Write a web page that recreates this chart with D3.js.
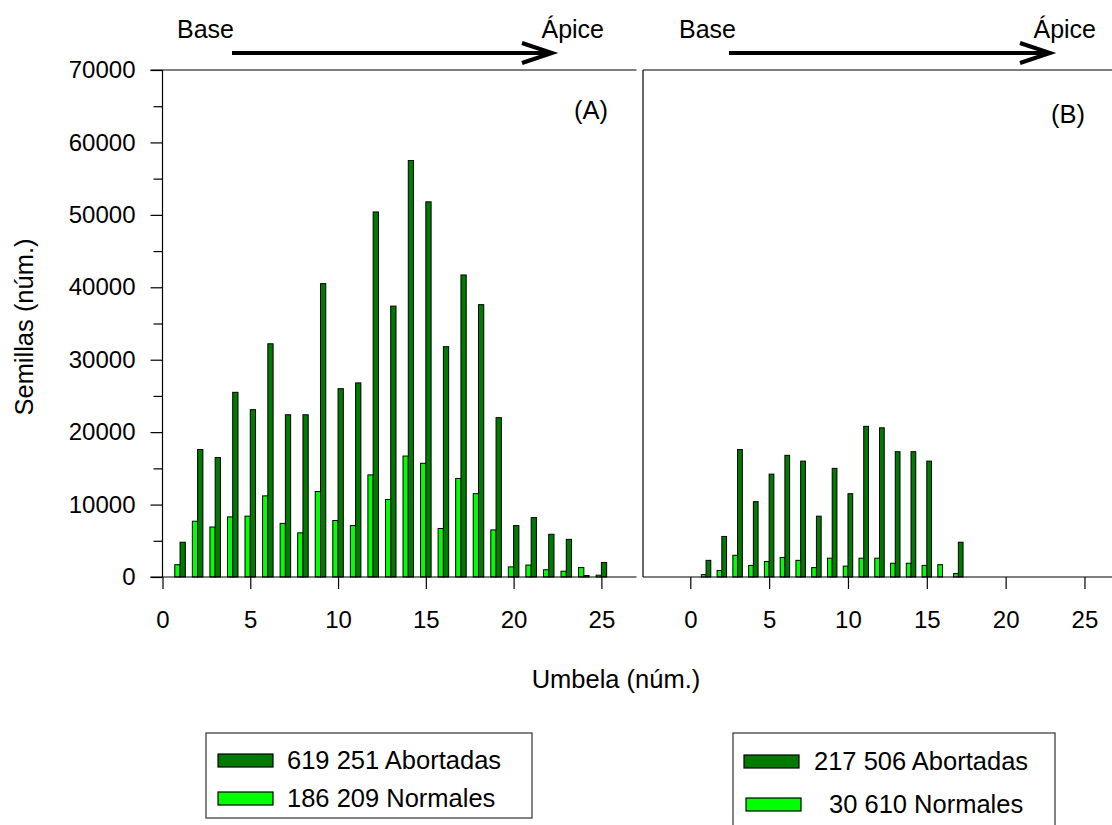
<!DOCTYPE html>
<html>
<head>
<meta charset="utf-8">
<script src="https://cdn.jsdelivr.net/npm/d3@7"></script>
<style>
  body { margin: 0; background: #fff; }
  svg { display: block; font-family: "Liberation Sans", Arial, sans-serif; }
</style>
</head>
<body>
<svg id="chart"></svg>
<script>
// Panel A
const umbelasA = [1, 2, 3, 4, 5, 6, 7, 8, 9, 10, 11, 12, 13, 14, 15, 16, 17, 18, 19, 20, 21, 22, 23, 24, 25];
const abortadasA = [4800, 17600, 16500, 25500, 23100, 32200, 22400, 22400, 40500, 26000, 26800, 50400, 37400, 57500, 51800, 31800, 41700, 37600, 22000, 7100, 8200, 5900, 5200, 200, 2000];
const normalesA = [1700, 7700, 6900, 8300, 8400, 11200, 7400, 6100, 11800, 7800, 7100, 14100, 10700, 16700, 15700, 6700, 13600, 11500, 6500, 1400, 1650, 1000, 800, 1300, 250];

// Panel B
const umbelasB = [1, 2, 3, 4, 5, 6, 7, 8, 9, 10, 11, 12, 13, 14, 15, 16, 17];
const abortadasB = [2300, 5600, 17600, 10400, 14200, 16800, 16000, 8400, 15000, 11500, 20800, 20600, 17300, 17300, 16000, 0, 4800];
const normalesB = [330, 900, 3000, 1600, 2150, 2700, 2300, 1300, 2600, 1500, 2600, 2600, 1900, 1900, 1600, 1700, 470];

const yTicks = [0, 10000, 20000, 30000, 40000, 50000, 60000, 70000];
const xTicks = [0, 5, 10, 15, 20, 25];
const legendA = ["619 251 Abortadas", "186 209 Normales"];
const legendB = ["217 506 Abortadas", "30 610 Normales"];

const W = 1112, H = 825;
const dark = "#007a00", light = "#00ff00";
const fontSize = 25.5;
const tickFont = 24;

const svg = d3.select('#chart').attr('width', W).attr('height', H);

const y = d3.scaleLinear().domain([0, 70000]).range([577, 70]);
const xA = d3.scaleLinear().domain([0, 27]).range([162.5, 636.5]);
const xB = d3.scaleLinear().domain([-3, 27]).range([643, 1116]);

const barW = 0.3;

function drawBars(x, cats, norm, abort) {
  const g = svg.append('g');
  const rows = cats.map((c, i) => ({ c, n: norm[i], a: abort[i] }));

  g.selectAll('.normal')
    .data(rows.filter(d => d.n > 0))
    .enter().append('rect')
    .attr('x', d => x(d.c - barW))
    .attr('y', d => y(d.n))
    .attr('width', d => x(d.c) - x(d.c - barW))
    .attr('height', d => y(0) - y(d.n))
    .attr('fill', light)
    .attr('stroke', '#000')
    .attr('stroke-width', 1);

  g.selectAll('.abort')
    .data(rows.filter(d => d.a > 0))
    .enter().append('rect')
    .attr('x', d => x(d.c))
    .attr('y', d => y(d.a))
    .attr('width', d => x(d.c + barW) - x(d.c))
    .attr('height', d => y(0) - y(d.a))
    .attr('fill', dark)
    .attr('stroke', '#000')
    .attr('stroke-width', 1);
}

drawBars(xA, umbelasA, normalesA, abortadasA);
drawBars(xB, umbelasB, normalesB, abortadasB);

// axes
function styleAxis(g) {
  g.selectAll('.tick line').attr('stroke', '#000').attr('stroke-width', 1.2);
  g.selectAll('.tick text').attr('fill', '#000').style('font-size', tickFont + 'px')
    .style('font-family', '"Liberation Sans", Arial, sans-serif');
  g.select('.domain').remove();
}

svg.append('g')
  .attr('transform', `translate(0,${y(0)})`)
  .call(d3.axisBottom(xA).tickValues(xTicks).tickSize(12).tickPadding(22))
  .call(styleAxis);

svg.append('g')
  .attr('transform', `translate(0,${y(0)})`)
  .call(d3.axisBottom(xB).tickValues(xTicks).tickSize(12).tickPadding(22))
  .call(styleAxis);

svg.append('g')
  .attr('transform', `translate(${xA(0)},0)`)
  .call(d3.axisLeft(y).tickValues(yTicks).tickFormat(d3.format('d')).tickSize(12).tickPadding(15))
  .call(styleAxis);

// minor y ticks
svg.append('g')
  .attr('transform', `translate(${xA(0)},0)`)
  .call(d3.axisLeft(y).tickValues(d3.range(5000, 70000, 10000)).tickSize(9).tickFormat(''))
  .call(styleAxis);

// frame lines
const frame = svg.append('g').attr('stroke', '#000').attr('stroke-width', 1.2).attr('fill', 'none');
frame.append('line').attr('x1', xA(0)).attr('x2', xA(0)).attr('y1', y(70000)).attr('y2', y(0));
frame.append('line').attr('x1', xA(0) - 12).attr('x2', xA.range()[1]).attr('y1', y(70000)).attr('y2', y(70000));
frame.append('line').attr('x1', xA(0) - 12).attr('x2', xA.range()[1]).attr('y1', y(0)).attr('y2', y(0));
frame.append('line').attr('x1', xB.range()[0]).attr('x2', xB.range()[0]).attr('y1', y(70000)).attr('y2', y(0));
frame.append('line').attr('x1', xB.range()[0]).attr('x2', W).attr('y1', y(70000)).attr('y2', y(70000));
frame.append('line').attr('x1', xB.range()[0]).attr('x2', W).attr('y1', y(0)).attr('y2', y(0));

// panel labels
svg.append('text').attr('x', 591).attr('y', 119).attr('text-anchor', 'middle')
  .style('font-size', fontSize + 'px').text('(A)');
svg.append('text').attr('x', 1068).attr('y', 123).attr('text-anchor', 'middle')
  .style('font-size', fontSize + 'px').text('(B)');

// Base -> Ápice arrows
function arrow(x0, x1, yy, baseX, apiceX) {
  const g = svg.append('g');
  g.append('line').attr('x1', x0).attr('x2', x1 - 2).attr('y1', yy).attr('y2', yy)
    .attr('stroke', '#000').attr('stroke-width', 4);
  g.append('path')
    .attr('d', `M${x1 - 30},${yy - 10} L${x1},${yy} L${x1 - 30},${yy + 10}`)
    .attr('stroke', '#000').attr('stroke-width', 4).attr('fill', 'none')
    .attr('stroke-linejoin', 'miter');
  g.append('text').attr('x', baseX).attr('y', 38).style('font-size', '25px').text('Base');
  g.append('text').attr('x', apiceX).attr('y', 38).attr('text-anchor', 'end')
    .style('font-size', '25px').text('Ápice');
}
arrow(232, 552, 53, 177, 604);
arrow(729, 1050, 53, 679, 1096);

// axis titles
svg.append('text')
  .attr('transform', 'translate(33,327) rotate(-90)')
  .attr('text-anchor', 'middle')
  .style('font-size', fontSize + 'px')
  .text('Semillas (núm.)');

svg.append('text')
  .attr('x', 616).attr('y', 688)
  .attr('text-anchor', 'middle')
  .style('font-size', fontSize + 'px')
  .text('Umbela (núm.)');

// legends
function legend(x0, x1, y0, y1, labels, swatchX, textX, rowsY) {
  const g = svg.append('g');
  g.append('rect').attr('x', x0).attr('y', y0).attr('width', x1 - x0).attr('height', y1 - y0)
    .attr('fill', '#fff').attr('stroke', '#333').attr('stroke-width', 1.2);
  [dark, light].forEach((c, i) => {
    g.append('rect').attr('x', swatchX[i]).attr('y', rowsY[i] - 15)
      .attr('width', 55).attr('height', 13)
      .attr('fill', c).attr('stroke', '#000').attr('stroke-width', 1.2);
    g.append('text').attr('x', textX[i]).attr('y', rowsY[i])
      .style('font-size', fontSize + 'px').text(labels[i]);
  });
}
legend(206, 532, 733, 818, legendA, [218, 218], [287, 287], [769, 807]);
legend(733, 1055, 733, 830, legendB, [744, 746], [814, 829], [770, 813]);
</script>
</body>
</html>
